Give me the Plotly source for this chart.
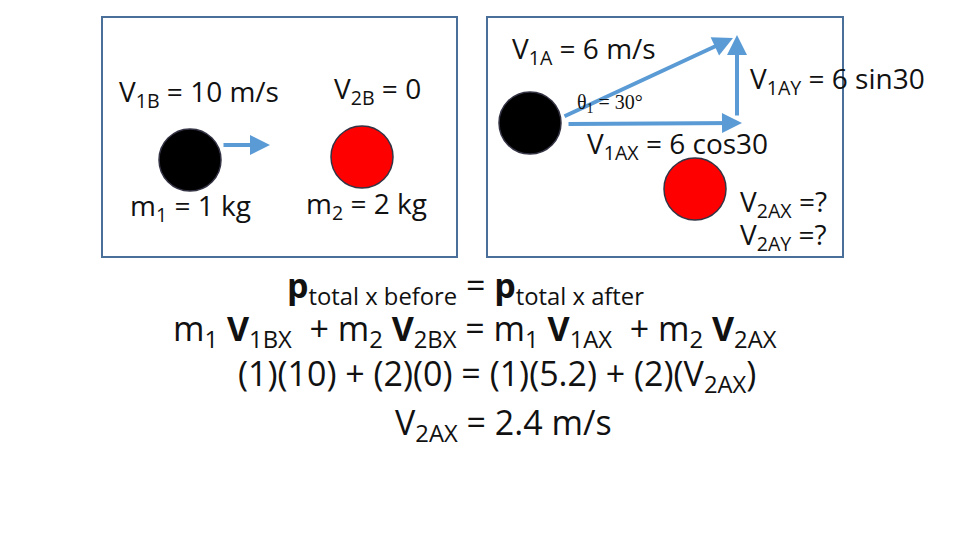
import plotly.graph_objects as go

# data
box_labels = ["before", "after"]
balls_x = [190, 362, 530, 695]
balls_y = [160, 157, 123, 189]
balls_color = ["black", "red", "black", "red"]
texts = [
    ("V<sub>1B</sub> = 10 m/s", 117, 93, 28, "left"),
    ("V<sub>2B</sub> = 0", 332, 90, 28, "left"),
    ("m<sub>1</sub> = 1 kg", 128, 207, 28, "left"),
    ("m<sub>2</sub> = 2 kg", 304, 205, 28, "left"),
    ("V<sub>1A</sub> = 6 m/s", 510, 50, 28, "left"),
    ("V<sub>1AY</sub> = 6 sin30", 748, 80, 28, "left"),
    ("V<sub>1AX</sub> = 6 cos30", 585, 145, 28, "left"),
    ("V<sub>2AX</sub> =?", 738, 203, 28, "left"),
    ("V<sub>2AY</sub> =?", 738, 236, 28, "left"),
    ("<b>p</b><sub>total x before</sub> = <b>p</b><sub>total x after</sub>", 465, 287, 34, "center"),
    ("m<sub>1</sub> <b>V</b><sub>1BX</sub>  + m<sub>2</sub> <b>V</b><sub>2BX</sub> = m<sub>1</sub> <b>V</b><sub>1AX</sub>  + m<sub>2</sub> <b>V</b><sub>2AX</sub>", 475, 330, 34, "center"),
    ("(1)(10) + (2)(0) = (1)(5.2) + (2)(V<sub>2AX</sub>)", 497, 375, 34, "center"),
    ("V<sub>2AX</sub> = 2.4 m/s", 503, 424, 34, "center"),
]
arrows = [(222, 145, 270, 145), (563, 117, 733, 38), (567, 124, 742, 123), (737, 117, 737, 35)]

fig = go.Figure()
blue = "#5b9bd5"
shapes = [
    dict(type="rect", x0=102, y0=17, x1=457, y1=257, line=dict(color="#4a6f99", width=2)),
    dict(type="rect", x0=487, y0=17, x1=843, y1=257, line=dict(color="#4a6f99", width=2)),
]
for x, y, c in zip(balls_x, balls_y, balls_color):
    shapes.append(dict(type="circle", x0=x - 31, x1=x + 31, y0=y - 31, y1=y + 31,
                       fillcolor=c, line=dict(color="#333344", width=1.5)))
fig.update_layout(shapes=shapes)
fig.add_trace(go.Scatter(x=[x - 17 for x in balls_x], y=[y - 17 for y in balls_y], mode="markers",
                         marker=dict(symbol="star", size=11, color="white"), hoverinfo="skip"))
for x0, y0, x1, y1 in arrows:
    fig.add_annotation(x=x1, y=y1, ax=x0, ay=y0, xref="x", yref="y", axref="x", ayref="y",
                       showarrow=True, arrowhead=2, arrowsize=1, arrowwidth=4, arrowcolor=blue, text="")
for t, x, y, s, a in texts:
    fig.add_annotation(x=x, y=y, text=t, showarrow=False, xanchor=a, yanchor="middle",
                       font=dict(family="Open Sans", size=s, color="#111"))
fig.add_annotation(x=610, y=103, text="θ<sub>1</sub> = 30°", showarrow=False,
                   font=dict(family="Liberation Serif", size=20, color="#111"))
fig.update_xaxes(range=[8, 968], visible=False)
fig.update_yaxes(range=[548, 8], visible=False)
fig.update_layout(width=960, height=540, margin=dict(l=0, r=0, t=0, b=0), showlegend=False,
                  plot_bgcolor="white", paper_bgcolor="white")
fig.write_html("out.html")
